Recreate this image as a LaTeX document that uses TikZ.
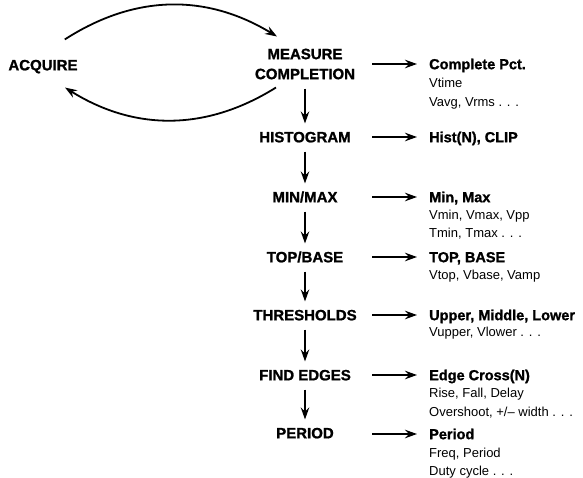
\documentclass[tikz,border=0pt]{standalone}
\usepackage{fontspec}
\setmainfont{Liberation Sans}[BoldFeatures={FakeBold=1.2}]
\usetikzlibrary{arrows.meta}

\begin{document}
\begin{tikzpicture}[x=1pt, y=-1pt,
    fase/.style={font=\bfseries\fontsize{15}{20}\selectfont, inner sep=0pt, align=center},
    passo/.style={fase, text height=10.7pt, text depth=0pt},
    titolo/.style={font=\bfseries\fontsize{14.5}{16}\selectfont, inner sep=0pt, anchor=west, text height=10.4pt, text depth=0pt},
    voce/.style={font=\fontsize{13}{15}\selectfont, inner sep=0pt, anchor=west, text height=9.3pt, text depth=0pt},
    freccia/.style={line width=1.8pt, -{Stealth[length=12pt,width=8.5pt,inset=4pt]}},
    giu/.style={freccia, shorten <=9pt, shorten >=8pt},
    destra/.style={freccia, shorten >=12pt}]
        % bordo
        \useasboundingbox (0,0) rectangle (583,478);

        % nodi con nomi
        \node[passo] (acq)     at (43,65)  {ACQUIRE};
        \node[fase]  (meas)    at (305,64) {MEASURE\\COMPLETION};
        \node[passo] (hist)    at (305,137) {HISTOGRAM};
        \node[passo] (minmax)  at (305,197) {MIN/MAX};
        \node[passo] (topbase) at (305,257) {TOP/BASE};
        \node[passo] (soglie)  at (305,315) {THRESHOLDS};
        \node[passo] (fronti)  at (305,375) {FIND EDGES};
        \node[passo] (periodo) at (305,433) {PERIOD};

        % colonna dei risultati
        \coordinate (col) at (372,0);
        \node[titolo] (tmeas)    at (429,64)  {Complete Pct.};
        \node[voce]   (vtime)    at (429,83)  {Vtime};
        \node[voce]   (vavg)     at (429,102) {Vavg, Vrms . . .};
        \node[titolo] (thist)    at (429,137) {Hist(N), CLIP};
        \node[titolo] (tminmax)  at (429,197) {Min, Max};
        \node[voce]   (vmin)     at (429,215) {Vmin, Vmax, Vpp};
        \node[voce]   (tmin)     at (429,233) {Tmin, Tmax . . .};
        \node[titolo] (ttopbase) at (429,257) {TOP, BASE};
        \node[voce]   (vtop)     at (429,275) {Vtop, Vbase, Vamp};
        \node[titolo] (tsoglie)  at (429,315) {Upper, Middle, Lower};
        \node[voce]   (vupper)   at (429,332) {Vupper, Vlower . . .};
        \node[titolo] (tfronti)  at (429,375) {Edge Cross(N)};
        \node[voce]   (rise)     at (429,393) {Rise, Fall, Delay};
        \node[voce]   (over)     at (429,412) {Overshoot, +/-- width . . .};
        \node[titolo] (tperiodo) at (429,434) {Period};
        \node[voce]   (freq)     at (429,453) {Freq, Period};
        \node[voce]   (duty)     at (429,471) {Duty cycle . . .};

        % ciclo di acquisizione
        \draw[freccia] ([xshift=-13pt,yshift=20pt]acq.north east)
              to[bend left=32] ([xshift=-28pt,yshift=12pt]meas.north);
        \draw[freccia] ([xshift=-29pt,yshift=-8pt]meas.south)
              to[bend left=32] ([xshift=22pt,yshift=-17pt]acq.south);

        % frecce verticali
        \draw[giu] (meas) -- (hist);
        \draw[giu] (hist) -- (minmax);
        \draw[giu] (minmax) -- (topbase);
        \draw[giu] (topbase) -- (soglie);
        \draw[giu] (soglie) -- (fronti);
        \draw[giu] (fronti) -- (periodo);

        % frecce verso i risultati
        \draw[destra] (tmeas.west -| col) -- (tmeas.west);
        \draw[destra] (thist.west -| col) -- (thist.west);
        \draw[destra] (tminmax.west -| col) -- (tminmax.west);
        \draw[destra] (ttopbase.west -| col) -- (ttopbase.west);
        \draw[destra] (tsoglie.west -| col) -- (tsoglie.west);
        \draw[destra] (tfronti.west -| col) -- (tfronti.west);
        \draw[destra] (tperiodo.west -| col) -- (tperiodo.west);

\end{tikzpicture}
\end{document}
